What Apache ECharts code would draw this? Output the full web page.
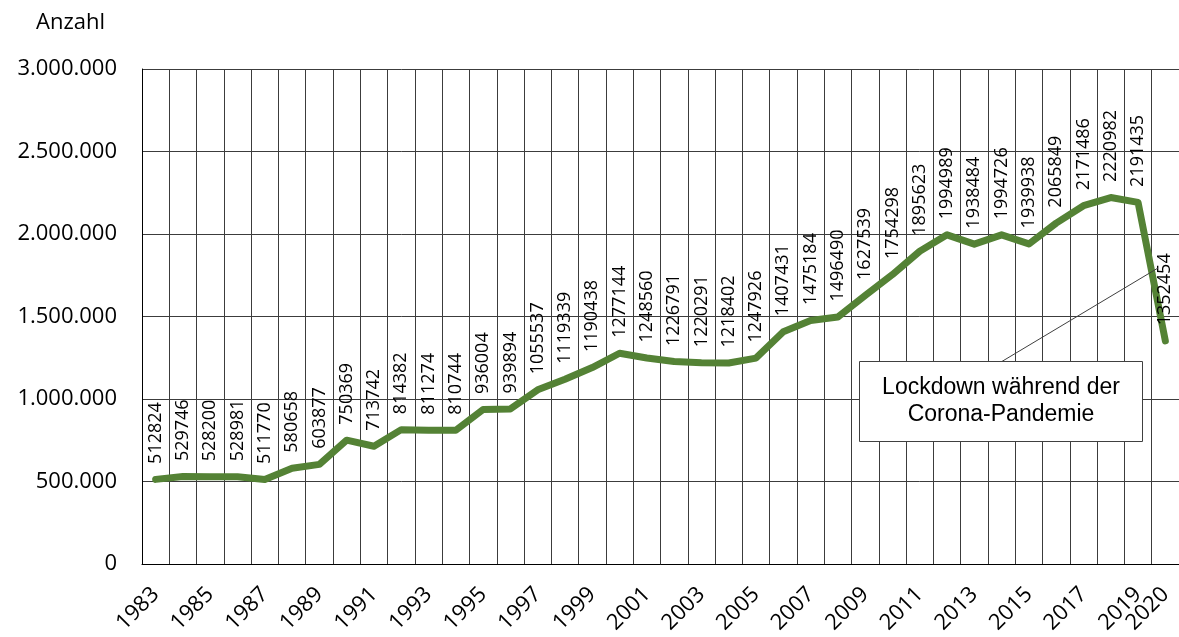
<!DOCTYPE html>
<html>
<head>
<meta charset="utf-8">
<script src="https://cdn.jsdelivr.net/npm/echarts@6/dist/echarts.min.js"></script>
<style>
html,body{margin:0;padding:0;background:#fff;}
#main{width:1179px;height:637px;}
</style>
</head>
<body>
<div id="main"></div>
<script>
const years = ['1983','1984','1985','1986','1987','1988','1989','1990','1991','1992','1993','1994','1995','1996','1997','1998','1999','2000','2001','2002','2003','2004','2005','2006','2007','2008','2009','2010','2011','2012','2013','2014','2015','2016','2017','2018','2019','2020'];
const values = [512824,529746,528200,528981,511770,580658,603877,750369,713742,814382,811274,810744,936004,939894,1055537,1119339,1190438,1277144,1248560,1226791,1220291,1218402,1247926,1407431,1475184,1496490,1627539,1754298,1895623,1994989,1938484,1994726,1939938,2065849,2171486,2220982,2191435,1352454];
const yTicks = [0, 500000, 1000000, 1500000, 2000000, 2500000, 3000000];
const annotationLines = ['Lockdown während der', 'Corona-Pandemie'];

const chart = echarts.init(document.getElementById('main'));
const fmt = v => String(v).replace(/\B(?=(\d{3})+(?!\d))/g, '.');
const lastIdx = years.length - 1;
const labelFont = { rotate: 45, margin: 27, hideOverlap: false, fontFamily: 'Open Sans', fontSize: 22, color: '#000' };

chart.setOption({
  animation: false,
  backgroundColor: '#fff',
  title: {
    text: 'Anzahl', left: 31, top: 7,
    textStyle: { fontFamily: 'Open Sans', fontSize: 22, fontWeight: 'normal', color: '#000' }
  },
  grid: { left: 142, right: -7, top: 69, bottom: 73, containLabel: false },
  xAxis: [{
    type: 'category',
    data: years,
    position: 'bottom',
    boundaryGap: true,
    axisLine: { show: true, lineStyle: { color: '#000', width: 1 } },
    axisTick: { show: false },
    splitLine: { show: true, interval: 0, lineStyle: { color: '#3c3c3c', width: 1 } },
    axisLabel: Object.assign({ interval: (i) => i % 2 === 0 }, labelFont)
  }, {
    type: 'category',
    data: years,
    position: 'bottom',
    offset: 0,
    boundaryGap: true,
    axisLine: { show: false },
    axisTick: { show: false },
    splitLine: { show: false },
    axisLabel: Object.assign({ interval: (i) => i === lastIdx, showMinLabel: false, showMaxLabel: true }, labelFont)
  }],
  yAxis: {
    type: 'value',
    min: yTicks[0], max: yTicks[yTicks.length - 1], interval: yTicks[1] - yTicks[0],
    axisLine: { show: true, lineStyle: { color: '#000', width: 1 } },
    axisTick: { show: false },
    splitLine: { show: true, lineStyle: { color: '#3c3c3c', width: 1 } },
    axisLabel: {
      formatter: fmt, margin: 25,
      fontFamily: 'Open Sans', fontSize: 22, color: '#000'
    }
  },
  series: [{
    type: 'line',
    data: values,
    xAxisIndex: 0,
    symbol: 'circle',
    symbolSize: 1,
    showSymbol: true,
    itemStyle: { color: 'rgba(0,0,0,0)' },
    lineStyle: { color: '#548235', width: 7, cap: 'round', join: 'round' },
    label: {
      show: true, position: 'top', distance: 15, rotate: 90,
      align: 'left', verticalAlign: 'middle', offset: [2, 0],
      fontFamily: 'Open Sans', fontSize: 18, color: '#000'
    },
    labelLayout: { hideOverlap: false },
    z: 3
  }],
  graphic: [
    {
      type: 'line', z: 10,
      shape: { x1: 1001, y1: 362, x2: 1158, y2: 268 },
      style: { stroke: '#404040', lineWidth: 1 }
    },
    {
      type: 'rect', z: 10,
      shape: { x: 859.5, y: 361.5, width: 283, height: 80 },
      style: { fill: '#fff', stroke: '#404040', lineWidth: 1 }
    },
    {
      type: 'text', z: 11,
      x: 1001, y: 401,
      style: {
        text: annotationLines.join('\n'),
        fontFamily: 'Liberation Sans', fontSize: 23, lineHeight: 27,
        fill: '#000', align: 'center', verticalAlign: 'middle'
      }
    }
  ]
});
</script>
</body>
</html>
